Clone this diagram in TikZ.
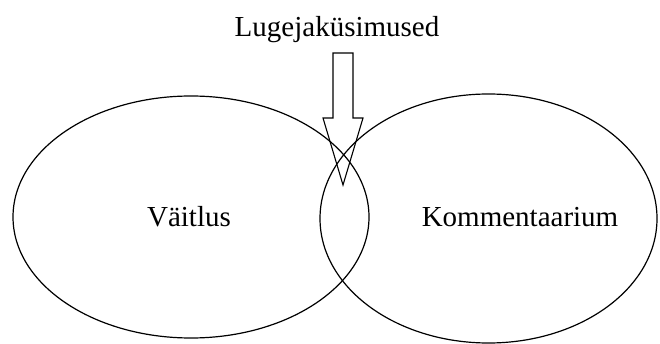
\documentclass[tikz,border=0pt]{standalone}
\usepackage{fontspec}
\setmainfont{Liberation Serif}
\usetikzlibrary{shapes.geometric}

\begin{document}
\begin{tikzpicture}[x=1pt, y=-1pt,
    ring/.style={draw, ellipse, inner sep=0pt, line width=1.2pt},
    word/.style={font=\fontsize{29}{34}\selectfont, anchor=base, inner sep=0pt}]
  \useasboundingbox (0,0) rectangle (660,344);
  \node[ring, minimum width=356, minimum height=242] (vaitlus) at (191,217) {};
  \node[ring, minimum width=337, minimum height=249] (komm) at (488.5,218.5) {};
  \node[word] (vtxt) at (189,226.7) {Väitlus};
  \node[word] (ktxt) at (520,226.7) {Kommentaarium};
  \node[word] (lugeja) at (337,36.7) {Lugejaküsimused};
  % block arrow down into the overlap
  \draw[line width=1.1pt] (333,53) -- (353,53) -- (353,118) -- (363,118) -- (343,185) -- (323,118) -- (333,118) -- cycle;
\end{tikzpicture}
\end{document}
